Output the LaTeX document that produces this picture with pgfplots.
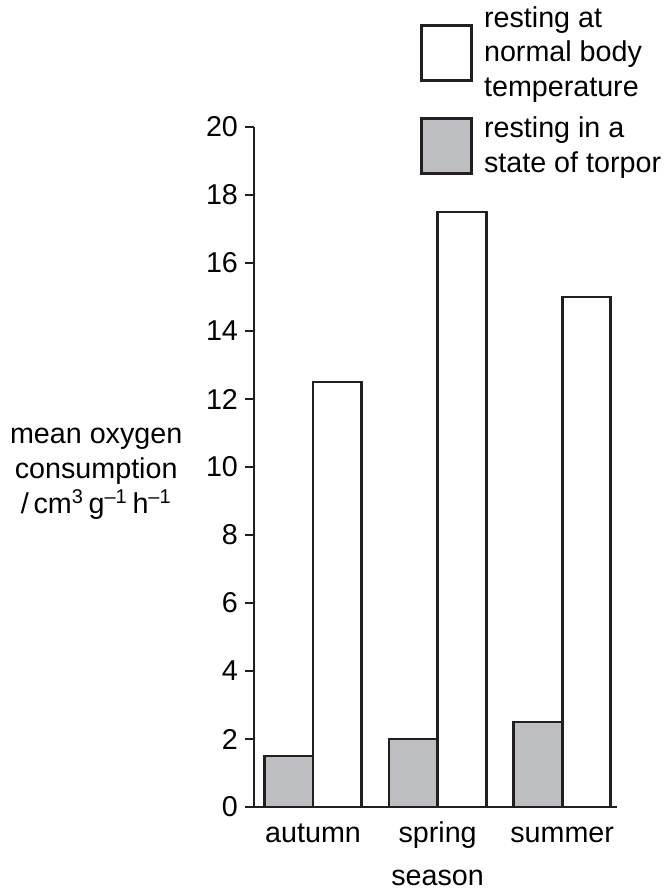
\documentclass[border=0pt]{standalone}
\usepackage{fontspec}
\setmainfont{Liberation Sans}
\usepackage{pgfplots}
\pgfplotsset{compat=1.18}
\definecolor{torpor}{RGB}{189,190,193}
\definecolor{ink}{RGB}{35,31,32}

\begin{document}
\begin{tikzpicture}[font=\fontsize{14.4}{17.5}\selectfont]
\path[use as bounding box] (-127bp,-42bp) rectangle (207.5bp,403.5bp);
\begin{axis}[
    at={(0,0)}, anchor=south west,
    scale only axis,
    width=181.5bp, height=340bp,
    xmin=0.526, xmax=3.44,
    ymin=0, ymax=20,
    axis x line*=bottom, axis y line*=left,
    axis line style={ink, line width=1.4bp, -},
    xtick={1,2,3}, xticklabels={autumn,spring,summer},
    xticklabel style={anchor=base, yshift=-13bp},
    ytick={0,2,...,20},
    x tick style={draw=none},
    y tick style={ink, line width=1.4bp},
    tick align=outside, major tick length=4.5bp,
    /pgf/number format/assume math mode=true,
    ylabel={mean oxygen\\consumption\\/\,cm\textsuperscript{3}\,g\textsuperscript{–1}\,h\textsuperscript{–1}},
    ylabel style={rotate=-90, align=center, at={(axis description cs:-0.178,0.5)}, anchor=east, yshift=-3.5bp},
    xlabel={season},
    xlabel style={at={(axis cs:2,0)}, anchor=north, yshift=-28bp},
    ybar, bar width=0.39,
    legend cell align=left,
    legend style={at={(axis description cs:0.457,1.184)}, anchor=north west,
        draw=none, fill=none, inner sep=0pt, row sep=4.5bp, column sep=3.5bp,
        cells={align=left}},
    legend image code/.code={\draw[#1, line width=1.4bp] (0bp,-13.75bp) rectangle (25bp,13.75bp);},
]
\addplot[fill=white, draw=ink, line width=1.4bp, bar shift=0.195]
    coordinates {(1,12.5) (2,17.5) (3,15)};
\addlegendentry{resting at\\normal body\\temperature}
\addplot[fill=torpor, draw=ink, line width=1.4bp, bar shift=-0.195]
    coordinates {(1,1.5) (2,2) (3,2.5)};
\addlegendentry{resting in a\\state of torpor}
\end{axis}
\end{tikzpicture}
\end{document}
